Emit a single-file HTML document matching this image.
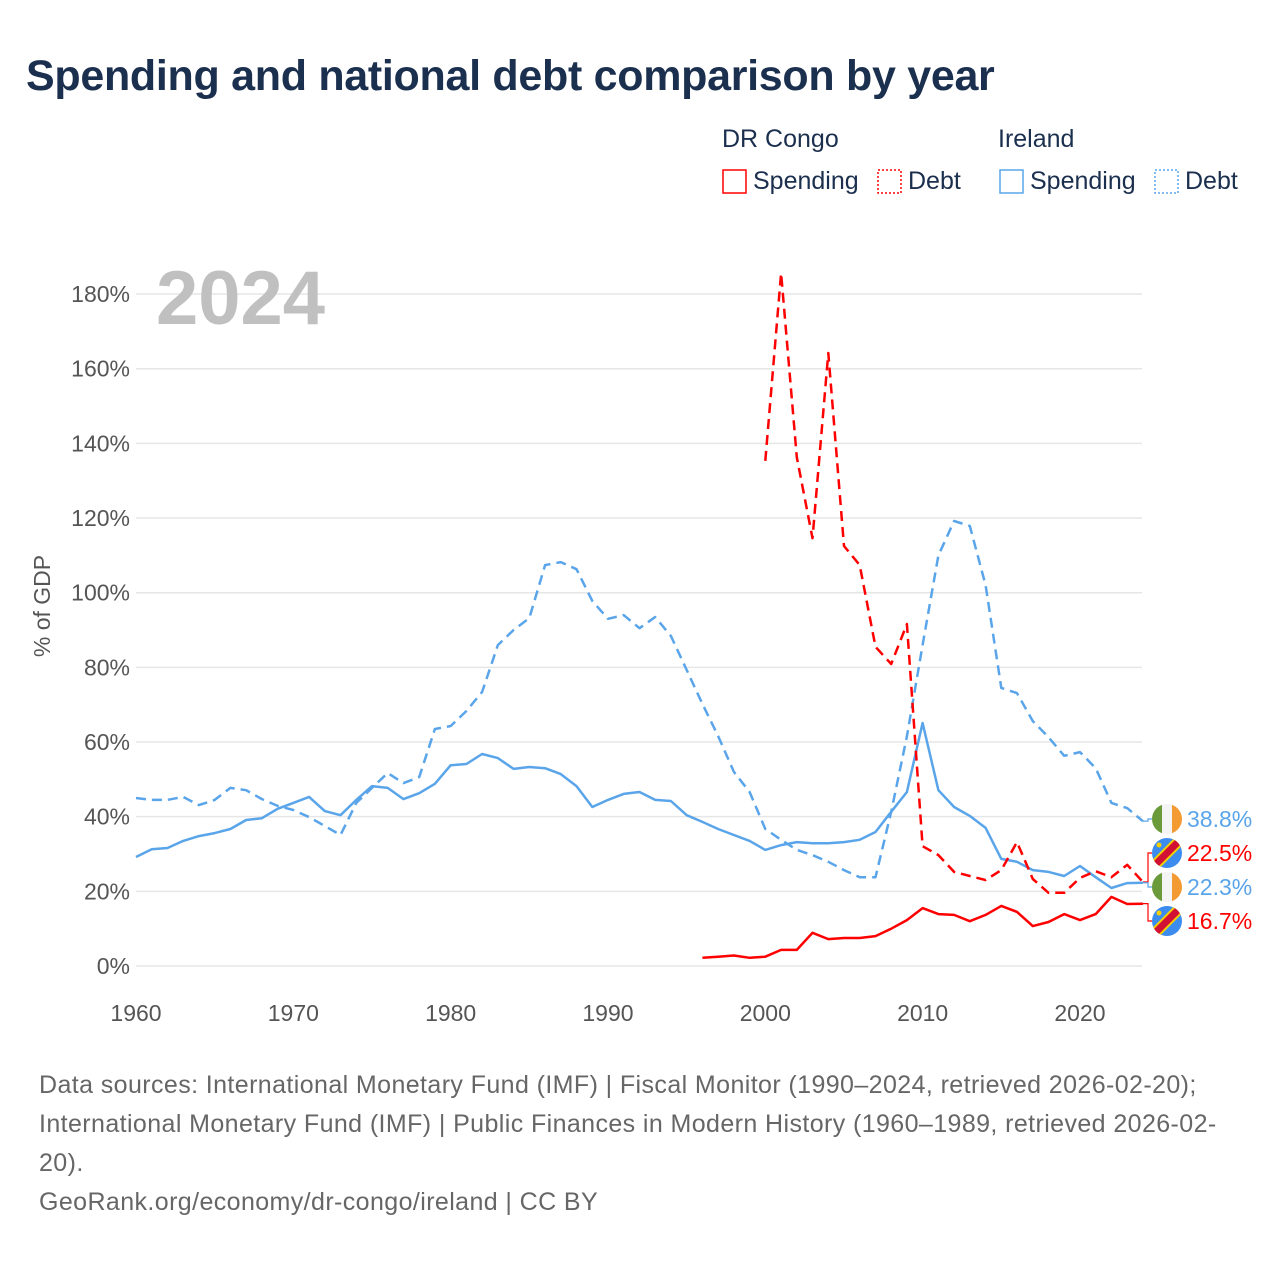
<!DOCTYPE html>
<html><head><meta charset="utf-8">
<style>
body{margin:0;background:#fff;font-family:"Liberation Sans",sans-serif;}
#wrap{position:relative;width:1280px;height:1280px;overflow:hidden;}
.t{position:absolute;white-space:nowrap;}
</style></head>
<body><div id="wrap">
<div class="t" style="left:26px;top:52px;font-size:43px;font-weight:bold;color:#1b2f4e;letter-spacing:-0.3px;">Spending and national debt comparison by year</div>
<svg id="chart" width="1280" height="1280" style="position:absolute;left:0;top:0"></svg>
<div class="t" style="left:39px;top:1066px;font-size:25px;line-height:39px;color:#666;letter-spacing:0.4px;">Data sources: International Monetary Fund (IMF) | Fiscal Monitor (1990–2024, retrieved 2026-02-20);<br>International Monetary Fund (IMF) | Public Finances in Modern History (1960–1989, retrieved 2026-02-<br>20).<br>GeoRank.org/economy/dr-congo/ireland | CC BY</div>
</div>
<script>
const years = Array.from({length:65},(_,i)=>1960+i);
const ieSpending=[29.2,31.3,31.6,33.5,34.8,35.6,36.7,39.1,39.6,42.1,43.7,45.3,41.5,40.4,44.5,48.2,47.7,44.7,46.3,48.8,53.8,54.1,56.8,55.7,52.8,53.3,53.0,51.4,48.2,42.6,44.5,46.1,46.6,44.5,44.2,40.4,38.6,36.7,35.1,33.5,31.1,32.4,33.2,32.9,32.9,33.2,33.8,35.9,41.3,46.6,65.1,47.1,42.6,40.2,37.0,28.7,27.9,25.7,25.2,24.1,26.8,23.8,20.9,22.2,22.3];
const ieDebt=[45,44.5,44.5,45.3,43.1,44.5,47.7,47.1,44.7,42.9,41.8,39.9,37.5,35.1,43.7,47.7,51.7,49,50.6,63.5,64.3,68.3,73.4,86,90,93.2,107.4,108.2,106.3,97.8,93,94,90.5,93.5,88.4,79.3,70.2,61.6,52,46.6,36.7,33.8,31.1,29.7,27.9,25.7,23.8,23.8,41.3,61.5,86,110,119.2,117.9,102,74.5,73.1,65.6,61.3,56.3,57.3,53,43.7,42.3,38.8];
const cdSpendingYears=Array.from({length:29},(_,i)=>1996+i);
const cdSpending=[2.2,2.5,2.8,2.2,2.5,4.3,4.3,8.9,7.2,7.5,7.5,8,10,12.3,15.5,13.9,13.7,12,13.7,16.1,14.5,10.7,11.8,13.9,12.3,13.9,18.5,16.6,16.7];
const cdDebtYears=Array.from({length:25},(_,i)=>2000+i);
const cdDebt=[135.3,185.6,136.3,114.6,164.2,112.5,107.4,85.5,80.9,91.6,32.1,29.7,25.2,24.1,23,25.7,33.2,23.3,19.6,19.6,23.6,25.4,23.8,27.1,22.5];
const yTicks=[0,20,40,60,80,100,120,140,160,180];
const xTicks=[1960,1970,1980,1990,2000,2010,2020];

const X=y=>136+(y-1960)*15.733;
const Y=v=>966-v*3.733;
const svg=document.getElementById('chart');
const NS='http://www.w3.org/2000/svg';
function mk(tag,attrs,parent){const e=document.createElementNS(NS,tag);for(const k in attrs)e.setAttribute(k,attrs[k]);(parent||svg).appendChild(e);return e;}

yTicks.forEach(v=>{
  const g=mk('line',{x1:136,x2:1142,y1:Y(v),y2:Y(v),stroke:'#e6e6e6','stroke-width':1.5});
  
  
  const t=mk('text',{x:130,y:Y(v)+8,'text-anchor':'end','font-size':23,fill:'#555','font-family':'Liberation Sans,sans-serif'});
  t.textContent=v+'%';
  
  
});
xTicks.forEach(v=>{
  const t=mk('text',{x:X(v),y:1021,'text-anchor':'middle','font-size':23,fill:'#555','font-family':'Liberation Sans,sans-serif'});
  t.textContent=v;
  
  
});
const yt=mk('text',{x:0,y:0,transform:'translate(50,606) rotate(-90)','text-anchor':'middle','font-size':23,fill:'#555','font-family':'Liberation Sans,sans-serif'});
yt.textContent='% of GDP';


const yr=mk('text',{x:156,y:324,'font-size':76,'font-weight':'bold',fill:'#c0c0c0','font-family':'Liberation Sans,sans-serif'});
yr.textContent='2024';



function line(xs,vs,color,dash,name){
  const d=vs.map((v,i)=>(i?'L':'M')+X(xs[i]).toFixed(1)+','+Y(v).toFixed(1)).join('');
  const p=mk('path',{d:d,fill:'none',stroke:color,'stroke-width':2.5,'stroke-dasharray':dash||'none','stroke-linejoin':'round'});
  
  
}
line(years,ieDebt,'#5aa5ea','10 6','ireland-debt-line');
line(years,ieSpending,'#5aa5ea','','ireland-spending-line');
line(cdDebtYears,cdDebt,'#ff0000','10 6','drcongo-debt-line');
line(cdSpendingYears,cdSpending,'#ff0000','','drcongo-spending-line');

const ends=[
 {v:ieDebt[64],ly:819,c:'#5aa5ea',flag:'ie',n:'ireland-debt'},
 {v:cdDebt[24],ly:853,c:'#ff0000',flag:'cd',n:'drcongo-debt'},
 {v:ieSpending[64],ly:887,c:'#5aa5ea',flag:'ie',n:'ireland-spending'},
 {v:cdSpending[28],ly:921,c:'#ff0000',flag:'cd',n:'drcongo-spending'}];
const defs=mk('defs',{});
ends.forEach((e,i)=>{
  const cp=mk('clipPath',{id:'cl'+i},defs);mk('circle',{cx:1167,cy:e.ly,r:15},cp);
  const ey=Y(e.v);
  const c=mk('path',{d:`M1143,${ey}H1148V${e.ly}H1152`,fill:'none',stroke:e.c,'stroke-width':1.2});
  
  
  const g=mk('g',{'clip-path':`url(#cl${i})`});
  
  
  if(e.flag==='ie'){
    mk('rect',{x:1152,y:e.ly-15,width:10,height:30,fill:'#6a9a3a'},g);
    mk('rect',{x:1162,y:e.ly-15,width:10,height:30,fill:'#f4f4f4'},g);
    mk('rect',{x:1172,y:e.ly-15,width:10,height:30,fill:'#f39a33'},g);
  }else{
    mk('rect',{x:1152,y:e.ly-15,width:30,height:30,fill:'#3c8cf0'},g);
    mk('line',{x1:1150,y1:e.ly+17,x2:1184,y2:e.ly-17,stroke:'#f5d000','stroke-width':11},g);
    mk('line',{x1:1150,y1:e.ly+17,x2:1184,y2:e.ly-17,stroke:'#d21034','stroke-width':7},g);
    mk('circle',{cx:1159,cy:e.ly-8,r:2.5,fill:'#f5d000'},g);
  }
  const t=mk('text',{x:1187,y:e.ly+8,'font-size':23,fill:e.c,'font-family':'Liberation Sans,sans-serif'});
  t.textContent=e.v.toFixed(1)+'%';
  
  
});

function ltext(x,y,s,name,col){const t=mk('text',{x:x,y:y,'font-size':25,fill:col||'#1b2f4e','font-family':'Liberation Sans,sans-serif'});t.textContent=s;
  
  }
ltext(722,147,'DR Congo','legend-group-drcongo');
ltext(998,147,'Ireland','legend-group-ireland');
const items=[[722,'#ff0000','','Spending','legend-drcongo-spending'],[877,'#ff0000','2 2','Debt','legend-drcongo-debt'],[999,'#5aa5ea','','Spending','legend-ireland-spending'],[1154,'#5aa5ea','2 2','Debt','legend-ireland-debt']];
items.forEach(it=>{
  const r=mk('rect',{x:it[0]+1,y:170,width:23,height:23,fill:'none',stroke:it[1],'stroke-width':1.5,'stroke-dasharray':it[2]||'none'});
  
  
  ltext(it[0]+31,189,it[3],it[4]);
});
</script>
</body></html>
